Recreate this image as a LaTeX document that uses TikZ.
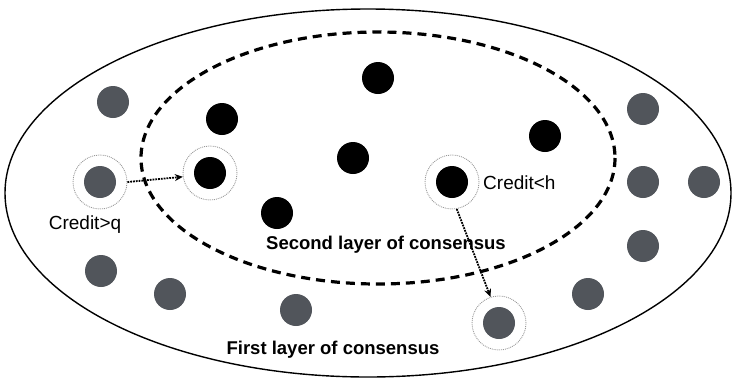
\documentclass[tikz,border=0pt]{standalone}
\usepackage{fontspec}
\setmainfont{Liberation Sans}
\usetikzlibrary{arrows.meta}
\definecolor{nodegray}{HTML}{51555B}
\tikzset{
  x=1pt, y=-1pt,
  graynode/.style={circle, fill=nodegray, minimum size=32pt, inner sep=0pt},
  blacknode/.style={circle, fill=black, minimum size=32pt, inner sep=0pt},
  ringnode/.style={circle, draw=gray!80, densely dotted, line width=0.9pt, minimum size=54pt, inner sep=0pt},
  movearrow/.style={densely dotted, line width=1.8pt, -{Stealth[length=8pt,width=7pt]}},
  lbl/.style={font=\fontsize{19}{21}\selectfont, inner sep=0pt},
  lblbold/.style={font=\fontsize{18.5}{21}\selectfont\bfseries, inner sep=0pt}
}
\begin{document}
\begin{tikzpicture}
\useasboundingbox (0,0) rectangle (736,381);
% layers
\draw[line width=1.4pt] (368,193) ellipse [x radius=363, y radius=184];
\draw[line width=3.2pt, dash pattern=on 9pt off 6pt] (378,158) ellipse [x radius=237, y radius=126];
% gray nodes (first layer)
\node[graynode] (g1) at (113,102) {};
\node[graynode] (g2) at (100,182) {};
\node[graynode] (g3) at (101,271) {};
\node[graynode] (g4) at (170,294) {};
\node[graynode] (g5) at (296,310) {};
\node[graynode] (g6) at (499,323) {};
\node[graynode] (g7) at (588,294) {};
\node[graynode] (g8) at (643,246) {};
\node[graynode] (g9) at (643,182) {};
\node[graynode] (g10) at (704,182) {};
\node[graynode] (g11) at (643,109) {};
% black nodes (second layer)
\node[blacknode] (b1) at (378,78) {};
\node[blacknode] (b2) at (222,119) {};
\node[blacknode] (b3) at (545,136) {};
\node[blacknode] (b4) at (353,158) {};
\node[blacknode] (b5) at (210,173) {};
\node[blacknode] (b6) at (452,182) {};
\node[blacknode] (b7) at (277,213) {};
% rings
\node[ringnode] (r1) at (g2) {};
\node[ringnode] (r2) at (b5) {};
\node[ringnode] (r3) at (b6) {};
\node[ringnode] (r4) at (g6) {};
% arrows
\draw[movearrow] (r1.east) -- (r2.188);
\draw[movearrow] (r3.-80) -- (r4.108);
% labels
\node[lbl] (tq) at (85,225) {Credit>q};
\node[lbl, anchor=west] (th) at (483,183) {Credit<h};
\node[lblbold] (t2) at (386,245) {Second layer of consensus};
\node[lblbold] (t1) at (333,350) {First layer of consensus};
\end{tikzpicture}
\end{document}
